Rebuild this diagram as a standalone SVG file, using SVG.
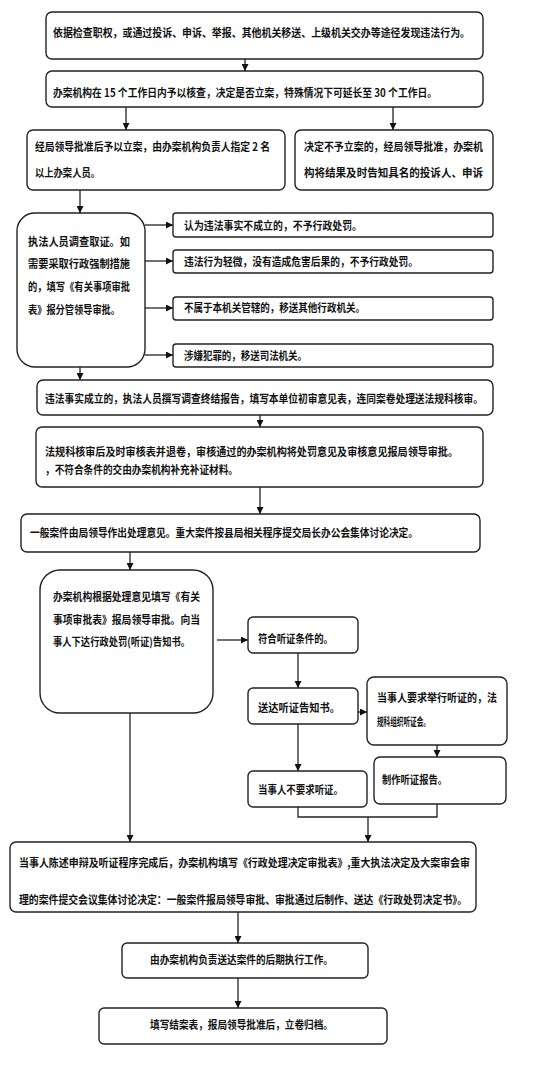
<svg xmlns="http://www.w3.org/2000/svg" width="554" height="1077" viewBox="0 0 554 1077">
<style>
rect.b{fill:#fff;stroke:#222;stroke-width:1.4}
text{font-family:"Noto Sans CJK SC","Noto Sans",sans-serif;font-size:11px;font-weight:bold;fill:#111}
.c path,.c line,.c polyline{fill:none;stroke:#222;stroke-width:1.3}
</style>
<defs>
<marker id="ah" viewBox="0 0 10 10" refX="10" refY="5" markerWidth="7" markerHeight="7" markerUnits="userSpaceOnUse" orient="auto"><path d="M0,0 L10,5 L0,10 z" fill="#111"/></marker>
</defs>
<rect width="554" height="1077" fill="#fff"/>
<g class="c" id="connectors">
<line x1="245" y1="59" x2="245" y2="71" marker-end="url(#ah)"/>
<line x1="126" y1="107" x2="126" y2="130" marker-end="url(#ah)"/>
<line x1="393" y1="107" x2="393" y2="130" marker-end="url(#ah)"/>
<line x1="80" y1="190" x2="80" y2="213" marker-end="url(#ah)"/>
<line x1="145" y1="225" x2="173" y2="225" marker-end="url(#ah)"/>
<line x1="145" y1="261" x2="173" y2="261" marker-end="url(#ah)"/>
<line x1="145" y1="308" x2="173" y2="308" marker-end="url(#ah)"/>
<line x1="145" y1="355" x2="173" y2="355" marker-end="url(#ah)"/>
<line x1="80" y1="367" x2="80" y2="380" marker-end="url(#ah)"/>
<line x1="260" y1="415" x2="260" y2="427" marker-end="url(#ah)"/>
<line x1="260" y1="487" x2="260" y2="514" marker-end="url(#ah)"/>
<line x1="130" y1="552" x2="130" y2="570" marker-end="url(#ah)"/>
<line x1="217" y1="640" x2="248" y2="640" marker-end="url(#ah)"/>
<line x1="298" y1="653" x2="298" y2="688" marker-end="url(#ah)"/>
<line x1="358" y1="712" x2="367" y2="712" marker-end="url(#ah)"/>
<line x1="298" y1="724" x2="298" y2="771" marker-end="url(#ah)"/>
<line x1="437" y1="745" x2="437" y2="757" marker-end="url(#ah)"/>
<polyline points="298,807 298,817 437,817 437,804"/>
<line x1="368" y1="817" x2="368" y2="842" marker-end="url(#ah)"/>
<line x1="130" y1="713" x2="130" y2="842" marker-end="url(#ah)"/>
<line x1="238" y1="912" x2="238" y2="943" marker-end="url(#ah)"/>
<line x1="238" y1="978" x2="238" y2="1008" marker-end="url(#ah)"/>
</g>
<g id="n1"><rect class="b" x="46" y="12" width="437" height="47" rx="6"/><text x="53" y="37" textLength="417" lengthAdjust="spacingAndGlyphs">依据检查职权，或通过投诉、申诉、举报、其他机关移送、上级机关交办等途径发现违法行为。</text></g>
<g id="n2"><rect class="b" x="46" y="71" width="437" height="36" rx="6"/><text x="53" y="97" textLength="384" lengthAdjust="spacingAndGlyphs">办案机构在 15 个工作日内予以核查，决定是否立案，特殊情况下可延长至 30 个工作日。</text></g>
<g id="n3"><rect class="b" x="27" y="130" width="258" height="60" rx="6"/><text x="35" y="151" textLength="235" lengthAdjust="spacingAndGlyphs">经局领导批准后予以立案，由办案机构负责人指定 2 名</text><text x="35" y="177" textLength="65" lengthAdjust="spacingAndGlyphs">以上办案人员。</text></g>
<g id="n4"><rect class="b" x="295" y="130" width="198" height="60" rx="6"/><text x="304" y="151" textLength="179" lengthAdjust="spacingAndGlyphs">决定不予立案的，经局领导批准，办案机</text><text x="304" y="177" textLength="179" lengthAdjust="spacingAndGlyphs">构将结果及时告知具名的投诉人、申诉</text></g>
<g id="n5"><rect class="b" x="17" y="213" width="128" height="154" rx="18"/><text x="28" y="246" textLength="102" lengthAdjust="spacingAndGlyphs">执法人员调查取证。如</text><text x="28" y="268" textLength="102" lengthAdjust="spacingAndGlyphs">需要采取行政强制措施</text><text x="28" y="291" textLength="102" lengthAdjust="spacingAndGlyphs">的，填写《有关事项审批</text><text x="28" y="314" textLength="92" lengthAdjust="spacingAndGlyphs">表》报分管领导审批。</text></g>
<g id="n6"><rect class="b" x="173" y="213" width="320" height="24" rx="3"/><text x="184" y="230" textLength="178" lengthAdjust="spacingAndGlyphs">认为违法事实不成立的，不予行政处罚。</text></g>
<g id="n7"><rect class="b" x="173" y="250" width="320" height="23" rx="3"/><text x="184" y="266" textLength="234" lengthAdjust="spacingAndGlyphs">违法行为轻微，没有造成危害后果的，不予行政处罚。</text></g>
<g id="n8"><rect class="b" x="173" y="297" width="320" height="23" rx="3"/><text x="184" y="312" textLength="181" lengthAdjust="spacingAndGlyphs">不属于本机关管辖的，移送其他行政机关。</text></g>
<g id="n9"><rect class="b" x="173" y="344" width="320" height="23" rx="3"/><text x="184" y="360" textLength="123" lengthAdjust="spacingAndGlyphs">涉嫌犯罪的，移送司法机关。</text></g>
<g id="n10"><rect class="b" x="37" y="380" width="456" height="35" rx="6"/><text x="45" y="403" textLength="438" lengthAdjust="spacingAndGlyphs">违法事实成立的，执法人员撰写调查终结报告，填写本单位初审意见表，连同案卷处理送法规科核审。</text></g>
<g id="n11"><rect class="b" x="36" y="427" width="447" height="60" rx="6"/><text x="45" y="456" textLength="413" lengthAdjust="spacingAndGlyphs">法规科核审后及时审核表并退卷，审核通过的办案机构将处罚意见及审核意见报局领导审批。</text><text x="45" y="474" textLength="193" lengthAdjust="spacingAndGlyphs">，不符合条件的交由办案机构补充补证材料。</text></g>
<g id="n12"><rect class="b" x="21" y="514" width="459" height="38" rx="6"/><text x="30" y="537" textLength="388" lengthAdjust="spacingAndGlyphs">一般案件由局领导作出处理意见。重大案件按县局相关程序提交局长办公会集体讨论决定。</text></g>
<g id="n13"><rect class="b" x="40" y="570" width="173" height="143" rx="20"/><text x="53" y="601" textLength="147" lengthAdjust="spacingAndGlyphs">办案机构根据处理意见填写《有关</text><text x="53" y="624" textLength="147" lengthAdjust="spacingAndGlyphs">事项审批表》报局领导审批。向当</text><text x="53" y="646" textLength="137" lengthAdjust="spacingAndGlyphs">事人下达行政处罚(听证)告知书。</text></g>
<g id="n14"><rect class="b" x="248" y="617" width="110" height="36" rx="5"/><text x="258" y="643" textLength="75" lengthAdjust="spacingAndGlyphs">符合听证条件的。</text></g>
<g id="n15"><rect class="b" x="248" y="688" width="110" height="36" rx="5"/><text x="258" y="712" textLength="82" lengthAdjust="spacingAndGlyphs">送达听证告知书。</text></g>
<g id="n16"><rect class="b" x="367" y="677" width="140" height="68" rx="7"/><text x="377" y="702" textLength="120" lengthAdjust="spacingAndGlyphs">当事人要求举行听证的，法</text><text x="377" y="726" textLength="53" lengthAdjust="spacingAndGlyphs">规科组织听证会。</text></g>
<g id="n17"><rect class="b" x="248" y="771" width="119" height="36" rx="5"/><text x="258" y="794" textLength="85" lengthAdjust="spacingAndGlyphs">当事人不要求听证。</text></g>
<g id="n18"><rect class="b" x="374" y="757" width="132" height="47" rx="6"/><text x="382" y="784" textLength="65" lengthAdjust="spacingAndGlyphs">制作听证报告。</text></g>
<g id="n19"><rect class="b" x="10" y="842" width="466" height="70" rx="6"/><text x="19" y="867" textLength="451" lengthAdjust="spacingAndGlyphs">当事人陈述申辩及听证程序完成后，办案机构填写《行政处理决定审批表》,重大执法决定及大案审会审</text><text x="19" y="904" textLength="448" lengthAdjust="spacingAndGlyphs">理的案件提交会议集体讨论决定：一般案件报局领导审批、审批通过后制作、送达《行政处罚决定书》。</text></g>
<g id="n20"><rect class="b" x="122" y="943" width="246" height="35" rx="5"/><text x="150" y="964" textLength="183" lengthAdjust="spacingAndGlyphs">由办案机构负责送达案件的后期执行工作。</text></g>
<g id="n21"><rect class="b" x="99" y="1008" width="288" height="36" rx="5"/><text x="150" y="1029" textLength="183" lengthAdjust="spacingAndGlyphs">填写结案表，报局领导批准后，立卷归档。</text></g>
</svg>
